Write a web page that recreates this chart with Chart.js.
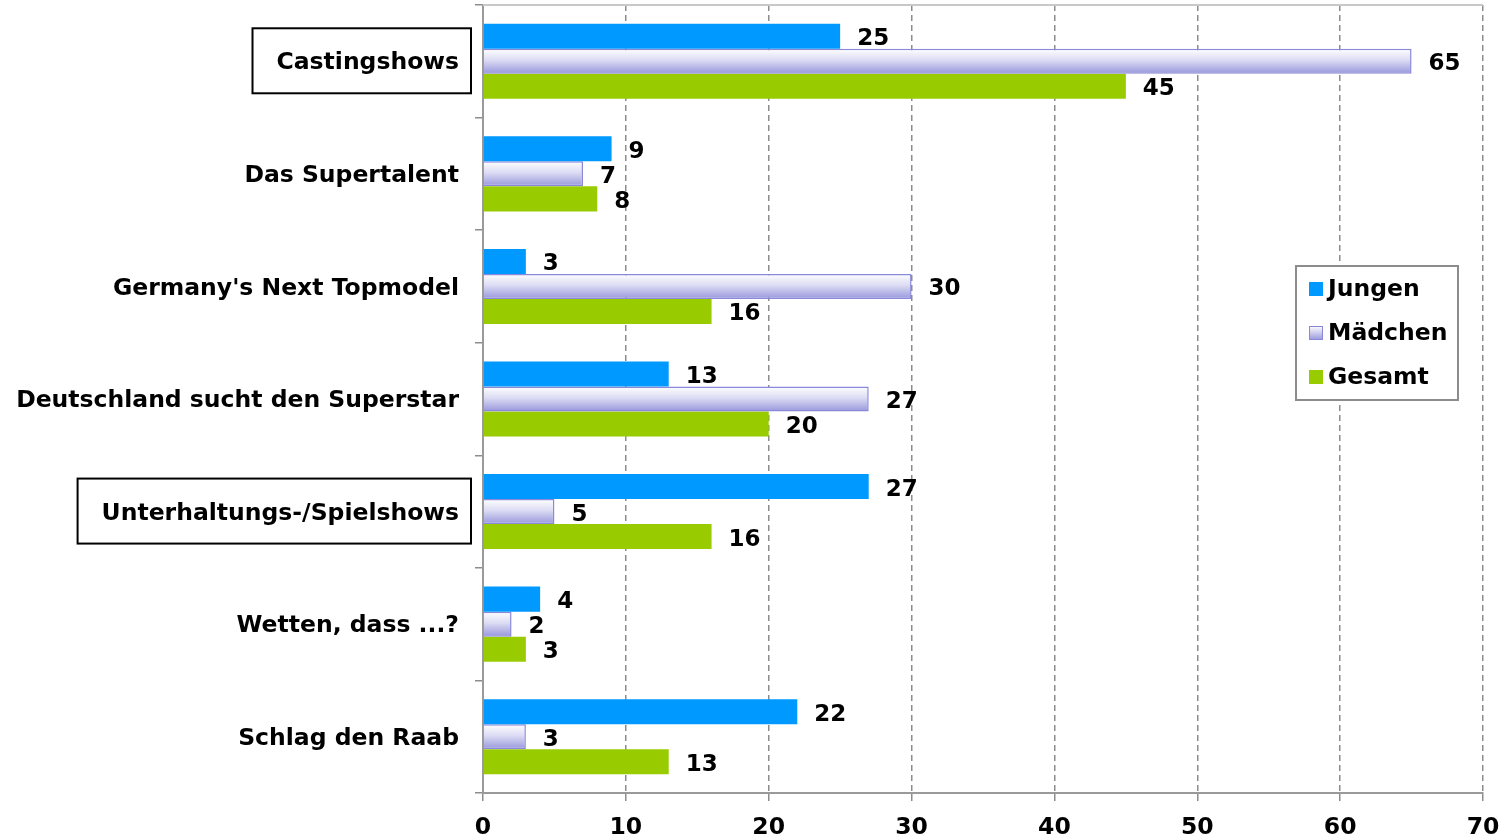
<!DOCTYPE html>
<html>
<head>
<meta charset="utf-8">
<script src="https://cdn.jsdelivr.net/npm/chart.js@4/dist/chart.umd.min.js"></script>
<style>
  html, body { margin: 0; padding: 0; background: #fff; }
  #wrap { width: 1502px; height: 838px; }
</style>
</head>
<body>
<div id="wrap"><canvas id="myChart" width="1502" height="838"></canvas></div>
<script>
// categories and values
var categories = ["Castingshows", "Das Supertalent", "Germany's Next Topmodel", "Deutschland sucht den Superstar", "Unterhaltungs-/Spielshows", "Wetten, dass ...?", "Schlag den Raab"];
var jungen = [25, 9, 3, 13, 27, 4, 22];
var maedchen = [65, 7, 30, 27, 5, 2, 3];
var gesamt = [45, 8, 16, 20, 16, 3, 13];
var seriesNames = ["Jungen", "Mädchen", "Gesamt"];
var boxedCategories = ["Castingshows", "Unterhaltungs-/Spielshows"];
var xTicks = [0, 10, 20, 30, 40, 50, 60, 70];

var FONT = "'DejaVu Sans', Verdana, sans-serif";
var FSIZE = 23.5;

//gradient fill for the Mädchen bars (middle bar of each group)
function maedchenFill(context){
  var chart = context.chart;
  var yScale = chart.scales.y;
  if (!chart.chartArea || !yScale || context.dataIndex === undefined) return '#c8c8ee';
  var yc = yScale.getPixelForValue(context.dataIndex);
  var h = (chart.chartArea.bottom - chart.chartArea.top) / categories.length * 0.667 / 3;
  if (!isFinite(yc) || !isFinite(h)) return '#c8c8ee';
  var g = chart.ctx.createLinearGradient(0, yc - h/2, 0, yc + h/2);
  g.addColorStop(0, '#ffffff');
  g.addColorStop(0.45, '#dcdcf4');
  g.addColorStop(1, '#9896dc');
  return g;
}

//value labels at bar ends
var valueLabels = {
  id: 'valueLabels',
  afterDatasetsDraw: function(chart){
    var ctx = chart.ctx;
    ctx.save();
    ctx.font = 'bold 23px ' + FONT;
    ctx.fillStyle = '#000';
    ctx.textAlign = 'left';
    ctx.textBaseline = 'middle';
    chart.data.datasets.forEach(function(ds, di){
      chart.getDatasetMeta(di).data.forEach(function(bar, i){
        ctx.fillText(ds.data[i], bar.x + 17, bar.y + 3);
      });
    });
    ctx.restore();
  }
};

//frame lines, boxes round some category labels, legend box
var extras = {
  id: 'extras',
  afterDraw: function(chart){
    var ctx = chart.ctx;
    var area = chart.chartArea;
    var yScale = chart.scales.y;
    ctx.save();
    //top line
    ctx.strokeStyle = '#c8c8c8';
    ctx.lineWidth = 2;
    ctx.beginPath();
    ctx.moveTo(area.left, area.top);
    ctx.lineTo(area.right, area.top);
    ctx.stroke();

    //boxes
    ctx.font = 'bold ' + FSIZE + 'px ' + FONT;
    ctx.strokeStyle = '#000';
    ctx.lineWidth = 2;
    categories.forEach(function(c, i){
      if (boxedCategories.indexOf(c) < 0) return;
      var yc = yScale.getPixelForTick(i);
      var w = ctx.measureText(c).width;
      var right = area.left - 12;
      var left = yScale.right - 24 - w - 24;
      ctx.strokeRect(left, yc - 33, right - left, 65);
    });

    //legend
    var lx = 1296, ly = 266, lw = 162, lh = 134;
    ctx.fillStyle = '#fff';
    ctx.fillRect(lx, ly, lw, lh);
    ctx.strokeStyle = '#8c8c8c';
    ctx.lineWidth = 2;
    ctx.strokeRect(lx, ly, lw, lh);
    ctx.textAlign = 'left';
    ctx.textBaseline = 'middle';
    chart.data.datasets.forEach(function(ds, di){
      var yy = ly + 23 + di * 44;
      var sx = lx + 13, sy = yy - 7;
      if (di === 1){
        var g = ctx.createLinearGradient(0, sy, 0, sy + 14);
        g.addColorStop(0, '#ffffff');
        g.addColorStop(1, '#9896dc');
        ctx.fillStyle = g;
        ctx.fillRect(sx, sy, 14, 14);
        ctx.strokeStyle = '#8a88d8';
        ctx.lineWidth = 1;
        ctx.strokeRect(sx + 0.5, sy + 0.5, 13, 13);
      } else {
        ctx.fillStyle = ds.backgroundColor;
        ctx.fillRect(sx, sy, 14, 14);
      }
      ctx.fillStyle = '#000';
      ctx.fillText(ds.label, lx + 32, yy + 1);
    });
    ctx.restore();
  }
};

var ctx = document.getElementById('myChart').getContext('2d');
var myChart = new Chart(ctx, {
  type: 'bar',
  data: {
    labels: categories,
    datasets: [
      {
        label: seriesNames[0],
        data: jungen,
        backgroundColor: '#0099ff',
        borderWidth: 0
      },{
        label: seriesNames[1],
        data: maedchen,
        backgroundColor: maedchenFill,
        borderColor: '#8a88d8',
        borderWidth: 1.5
      },{
        label: seriesNames[2],
        data: gesamt,
        backgroundColor: '#99cc00',
        borderWidth: 0
      }
    ]
  },
  plugins: [valueLabels, extras],
  options: {
    indexAxis: 'y',
    responsive: false,
    animation: false,
    maintainAspectRatio: false,
    layout: { padding: { top: 5, right: 19, left: 0, bottom: 0 } },
    plugins: {
      legend: { display: false },
      tooltip: { enabled: false }
    },
    datasets: {
      bar: { categoryPercentage: 0.667, barPercentage: 1.0 }
    },
    scales: {
      x: {
        min: 0,
        max: 70,
        afterBuildTicks: function(scale){
          scale.ticks = xTicks.map(function(v){ return { value: v }; });
        },
        afterFit: function(scale){
          scale.height = 45;
          scale.paddingLeft = 0;
          scale.paddingRight = 0;
        },
        grid: {
          color: '#8c8c8c',
          lineWidth: 1.5,
          tickLength: 8,
          tickColor: '#8c8c8c',
          tickBorderDash: []
        },
        border: { color: '#9a9a9a', width: 2, dash: [6, 4] },
        ticks: {
          color: '#000',
          padding: 13,
          font: { family: FONT, size: FSIZE, weight: 'bold' }
        }
      },
      y: {
        afterFit: function(scale){
          scale.width = 483;
          scale.paddingTop = 0;
          scale.paddingBottom = 0;
        },
        grid: {
          drawOnChartArea: false,
          offset: true,
          tickLength: 8,
          color: '#8c8c8c',
          lineWidth: 1.5
        },
        border: { color: '#9a9a9a', width: 2 },
        ticks: {
          color: '#000',
          padding: 16,
          labelOffset: 2,
          font: { family: FONT, size: FSIZE, weight: 'bold' }
        }
      }
    }
  }
});
</script>
</body>
</html>
